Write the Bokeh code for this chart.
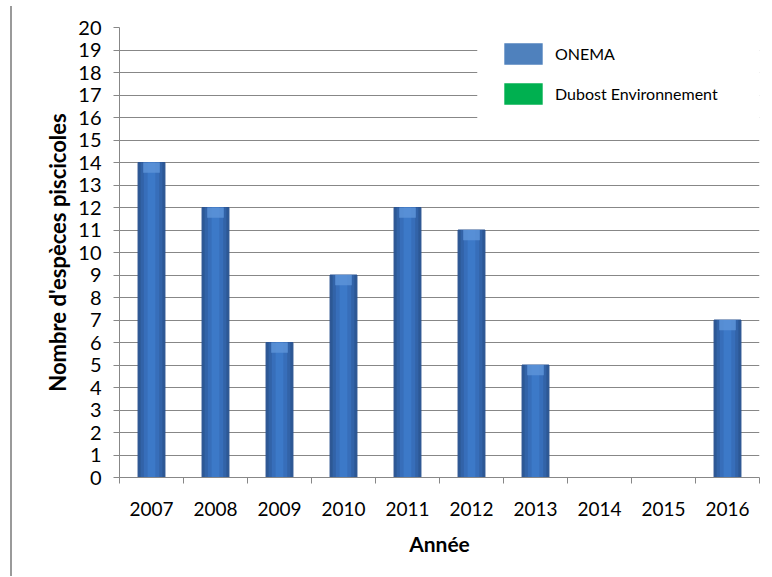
from bokeh.plotting import figure
from bokeh.models import (ColumnDataSource, FixedTicker, Legend, LegendItem,
                          BoxAnnotation, Div, Range1d)
from bokeh.layouts import row
from bokeh.embed import file_html
from bokeh.resources import INLINE

years = ["2007", "2008", "2009", "2010", "2011", "2012", "2013", "2014", "2015", "2016"]
onema = [14, 12, 6, 9, 12, 11, 5, None, None, 7]
dubost = [None] * 10
y_ticks = list(range(0, 21))

FONT = "Lato"
GRID = "#878787"

xs = [i + 0.5 for i in range(len(years))]
onema_vals = [float("nan") if v is None else v for v in onema]
dubost_vals = [float("nan") if v is None else v for v in dubost]
src = ColumnDataSource(dict(x=xs, top=onema_vals,
                            cap=[v - 0.45 for v in onema_vals]))
src_d = ColumnDataSource(dict(x=xs, top=dubost_vals))

p = figure(width=760, height=577, output_backend="svg", toolbar_location=None,
           x_range=Range1d(0, len(years)), y_range=Range1d(0, 20),
           min_border_left=107, min_border_right=13, min_border_top=27,
           min_border_bottom=100, margin=0)
p.outline_line_color = None
p.background_fill_color = "white"

# bars (layered to imitate the shaded cylinder look)
p.vbar(x="x", top="top", bottom=0, width=0.42, source=src,
       fill_color="#2C5895", line_color="#2A5290", line_width=1)
p.vbar(x="x", top="top", bottom=0, width=0.34, source=src,
       fill_color="#3263A8", line_color=None)
p.vbar(x="x", top="top", bottom=0, width=0.24, source=src,
       fill_color="#376EBA", line_color=None)
p.vbar(x="x", top="top", bottom=0, width=0.12, source=src,
       fill_color="#3C79C8", line_color=None)
p.vbar(x="x", top="top", bottom="cap", width=0.26, source=src,
       fill_color="#5E95DA", fill_alpha=0.8, line_color=None)
r_leg_onema = p.vbar(x="x", top="top", bottom=0, width=0.0, source=src,
                     fill_color="#4F81BD", line_color=None)
r_leg_dubost = p.vbar(x="x", top="top", bottom=0, width=0.42, source=src_d,
                      fill_color="#00B050", line_color=None)

# grid
p.xgrid.grid_line_color = None
p.ygrid.grid_line_color = GRID
p.ygrid.grid_line_width = 1
p.ygrid.ticker = FixedTicker(ticks=y_ticks)

# y axis
p.yaxis.ticker = FixedTicker(ticks=y_ticks)
p.yaxis.axis_line_color = GRID
p.yaxis.major_tick_line_color = GRID
p.yaxis.major_tick_out = 6
p.yaxis.major_tick_in = 0
p.yaxis.minor_tick_line_color = None
p.yaxis.major_label_text_font = FONT
p.yaxis.major_label_text_font_size = "20px"
p.yaxis.major_label_text_color = "black"
p.yaxis.major_label_standoff = 12
p.yaxis.axis_label = "Nombre d'espèces piscicoles"
p.yaxis.axis_label_text_font = FONT
p.yaxis.axis_label_text_font_size = "22px"
p.yaxis.axis_label_text_font_style = "bold"
p.yaxis.axis_label_text_color = "black"
p.yaxis.axis_label_standoff = 4

# x axis: labels at band centres, tick marks at band boundaries
p.xaxis.ticker = FixedTicker(ticks=xs, minor_ticks=list(range(len(years) + 1)))
p.xaxis.major_label_overrides = {x: y for x, y in zip(xs, years)}
p.xaxis.axis_line_color = GRID
p.xaxis.major_tick_line_color = None
p.xaxis.major_tick_out = 0
p.xaxis.major_tick_in = 0
p.xaxis.minor_tick_line_color = GRID
p.xaxis.minor_tick_out = 6
p.xaxis.minor_tick_in = 0
p.xaxis.major_label_text_font = FONT
p.xaxis.major_label_text_font_size = "19px"
p.xaxis.major_label_text_color = "black"
p.xaxis.major_label_standoff = 18
p.xaxis.axis_label = "Année"
p.xaxis.axis_label_text_font = FONT
p.xaxis.axis_label_text_font_size = "21px"
p.xaxis.axis_label_text_font_style = "bold"
p.xaxis.axis_label_text_color = "black"
p.xaxis.axis_label_standoff = 12

# white area behind the legend (hides the upper grid lines)
p.add_layout(BoxAnnotation(left=5.59, right=10.5, bottom=15.58, top=20.6,
                           fill_color="white", fill_alpha=1.0, line_color=None))

legend = Legend(items=[LegendItem(label="ONEMA", renderers=[r_leg_onema]),
                       LegendItem(label="Dubost Environnement", renderers=[r_leg_dubost])],
                location=(380, 370))
legend.background_fill_alpha = 0
legend.border_line_color = None
legend.glyph_width = 48
legend.glyph_height = 27
legend.label_standoff = 8
legend.spacing = 13
legend.padding = 10
legend.label_text_font = FONT
legend.label_text_font_size = "16px"
legend.label_text_color = "black"
p.add_layout(legend)

side = Div(width=12, height=577, margin=0,
           styles={"border-right": "2px solid #9a9a9a", "box-sizing": "border-box",
                   "height": "570px", "margin-top": "6px"})
layout = row(side, p, spacing=0)

open("out.html", "w").write(file_html(layout, INLINE))
